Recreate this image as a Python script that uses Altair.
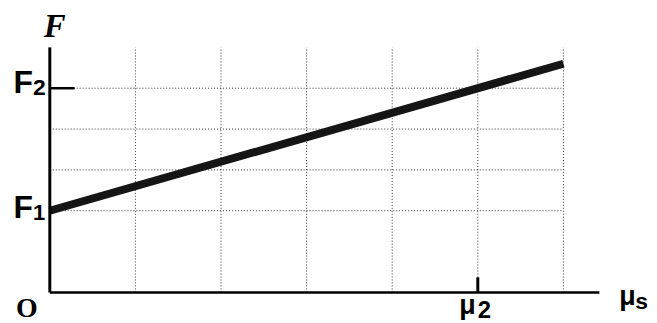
import altair as alt
import pandas as pd

# ---- data ----
mu_values = [0, 6]          # line endpoints (μs)
F_values = [2, 5.6]         # line endpoints (F)
x_grid = [1, 2, 3, 4, 5, 6]  # vertical dotted grid lines
y_grid = [2, 3, 4, 5]        # horizontal dotted grid lines
F1 = 2
F2 = 5
mu2 = 5
x_axis_end = 6.42
y_axis_top = 6

xs = alt.Scale(domain=[0, 7], nice=False, zero=False)
ys = alt.Scale(domain=[0, 6.8], nice=False, zero=False)


def X(f):
    return alt.X(f, type="quantitative", scale=xs, axis=None)


def Y(f):
    return alt.Y(f, type="quantitative", scale=ys, axis=None)


grid_color = "#333333"

vgrid = alt.Chart(pd.DataFrame({"x": x_grid, "y0": [0] * len(x_grid), "y1": [y_axis_top] * len(x_grid)})).mark_rule(
    color=grid_color, strokeWidth=1, strokeDash=[1, 2]
).encode(x=X("x"), y=Y("y0"), y2="y1")

hgrid = alt.Chart(pd.DataFrame({"y": y_grid, "x0": [0] * len(y_grid), "x1": [x_grid[-1]] * len(y_grid)})).mark_rule(
    color=grid_color, strokeWidth=1, strokeDash=[1, 2]
).encode(y=Y("y"), x=X("x0"), x2="x1")

yaxis = alt.Chart(pd.DataFrame({"x": [0], "y0": [0], "y1": [y_axis_top]})).mark_rule(
    color="black", strokeWidth=3
).encode(x=X("x"), y=Y("y0"), y2="y1")

xaxis = alt.Chart(pd.DataFrame({"y": [0], "x0": [0], "x1": [x_axis_end]})).mark_rule(
    color="black", strokeWidth=2.5
).encode(y=Y("y"), x=X("x0"), x2="x1")

line = alt.Chart(pd.DataFrame({"mu": mu_values, "F": F_values})).mark_line(
    color="#151515", strokeWidth=8, strokeCap="butt"
).encode(x=X("mu"), y=Y("F"))

tickF2 = alt.Chart(pd.DataFrame({"y": [F2], "x0": [0], "x1": [0.29]})).mark_rule(
    color="black", strokeWidth=2.5
).encode(y=Y("y"), x=X("x0"), x2="x1")

tickmu2 = alt.Chart(pd.DataFrame({"x": [mu2], "y0": [0], "y1": [0.37]})).mark_rule(
    color="black", strokeWidth=3
).encode(x=X("x"), y=Y("y0"), y2="y1")


def label(x, y, text, font, size, weight, align, dx, dy, style="normal"):
    return alt.Chart(pd.DataFrame({"x": [x], "y": [y], "t": [text]})).mark_text(
        font=font, fontSize=size, fontWeight=weight, fontStyle=style,
        align=align, baseline="alphabetic", dx=dx, dy=dy, color="black"
    ).encode(x=X("x"), y=Y("y"), text="t:N")


sans = "Liberation Sans"
serif = "Liberation Serif"

texts = [
    label(0, y_axis_top, "F", serif, 33, "bold", "center", 5, -10, style="italic"),
    label(0, F2, "F", sans, 32, "bold", "right", -17, 5),
    label(0, F2, "2", sans, 23, "bold", "left", -17, 7),
    label(0, F1, "F", sans, 32, "bold", "right", -17, 7),
    label(0, F1, "1", sans, 22, "bold", "left", -17, 9),
    label(0, 0, "O", serif, 28, "bold", "center", -23, 25),
    label(mu2, 0, "μ", sans, 27, "bold", "right", -2, 22),
    label(mu2, 0, "2", sans, 24, "bold", "left", 0, 26),
    label(x_axis_end, 0, "μ", sans, 27, "bold", "left", 20, 13),
    label(x_axis_end, 0, "s", sans, 23, "bold", "left", 36, 17),
]

chart = alt.layer(vgrid, hgrid, line, yaxis, xaxis, tickF2, tickmu2, *texts).properties(
    width=602, height=279,
    autosize=alt.AutoSizeParams(type="none"),
    padding={"left": 42, "top": 6, "right": 0, "bottom": 30},
).configure_view(stroke=None)

chart.save("out.html", embed_options={"renderer": "svg", "actions": False})
